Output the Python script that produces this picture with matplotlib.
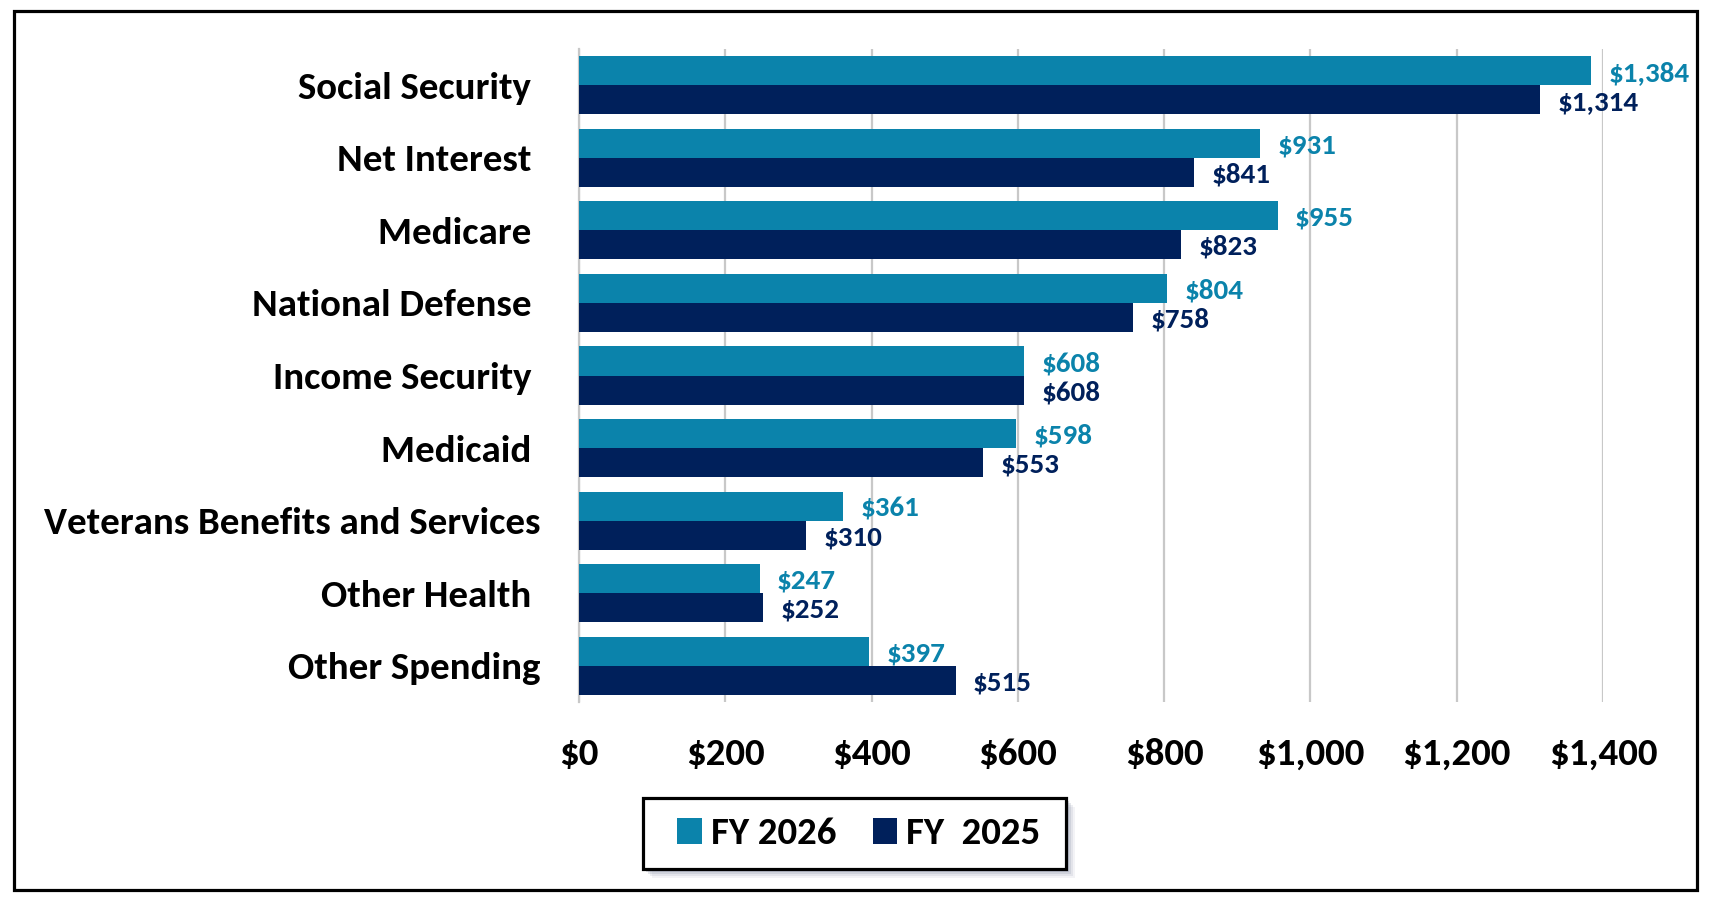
import matplotlib
matplotlib.use("Agg")
import matplotlib.pyplot as plt
from matplotlib import font_manager as fm
from matplotlib.patches import Rectangle, Patch
import numpy as np

categories = ["Social Security", "Net Interest", "Medicare", "National Defense",
              "Income Security", "Medicaid", "Veterans Benefits and Services",
              "Other Health", "Other Spending"]
# trailing spaces as in the original category labels
category_labels = ["Social Security ", "Net Interest ", "Medicare ", "National Defense ",
                   "Income Security ", "Medicaid ", "Veterans Benefits and Services",
                   "Other Health ", "Other Spending"]
fy2026 = [1384, 931, 955, 804, 608, 598, 361, 247, 397]
fy2025 = [1314, 841, 823, 758, 608, 553, 310, 252, 515]
series_names = ["FY 2026", "FY  2025"]
xticks = [0, 200, 400, 600, 800, 1000, 1200, 1400]
xtick_labels = ["$0", "$200", "$400", "$600", "$800", "$1,000", "$1,200", "$1,400"]

C26 = "#0B83AB"
C25 = "#00205B"

avail = {f.name for f in fm.fontManager.ttflist}
family = None
for cand in ["Carlito", "Calibri", "Lato", "Open Sans", "DejaVu Sans"]:
    if cand in avail:
        family = cand
        break
plt.rcParams["font.family"] = [family, "DejaVu Sans"]
plt.rcParams["font.weight"] = "bold"

W, H = 1711, 901
fig = plt.figure(figsize=(W / 100, H / 100), dpi=100)
ax = fig.add_axes([579 / W, 1 - 702 / H, (1603 - 579) / W, (702 - 49) / H])

y = np.arange(len(categories))
bh = 0.40
ax.barh(y - bh / 2, fy2026, height=bh, color=C26, zorder=3, label=series_names[0])
ax.barh(y + bh / 2, fy2025, height=bh, color=C25, zorder=3, label=series_names[1])

for yi, v in zip(y, fy2026):
    ax.annotate(f"${v:,}", (v, yi - bh / 2), xytext=(12.5, -1.5), textcoords="offset points",
                va="center", ha="left", color=C26, fontsize=21, fontweight="bold",
                annotation_clip=False, zorder=4)
for yi, v in zip(y, fy2025):
    ax.annotate(f"${v:,}", (v, yi + bh / 2), xytext=(12.5, -1.5), textcoords="offset points",
                va="center", ha="left", color=C25, fontsize=21, fontweight="bold",
                annotation_clip=False, zorder=4)

ax.set_xlim(0, 1400)
ax.set_ylim(len(categories) - 0.5, -0.5)
ax.set_xticks(xticks)
ax.set_xticklabels(xtick_labels)
ax.set_yticks(y)
ax.set_yticklabels(category_labels)
ax.tick_params(axis="x", length=0, pad=26, labelsize=28)
ax.tick_params(axis="y", length=0, pad=28, labelsize=28)
for lab in ax.get_xticklabels() + ax.get_yticklabels():
    lab.set_fontweight("bold")
    lab.set_color("black")

ax.grid(axis="x", color="#C8C8C8", linewidth=1.6, zorder=0)
ax.grid(axis="y", visible=False)
for s in ["top", "right", "bottom"]:
    ax.spines[s].set_visible(False)
ax.spines["left"].set_color("#C8C8C8")
ax.spines["left"].set_linewidth(1.6)

# legend box with soft shadow
lx0, lx1, ly0, ly1 = 643, 1066, 798, 869
for off, a in [(9, 0.10), (7, 0.15), (5, 0.22), (3, 0.30)]:
    fig.patches.append(Rectangle(((lx0 + off) / W, 1 - (ly1 + off) / H), (lx1 - lx0) / W,
                                 (ly1 - ly0) / H, transform=fig.transFigure,
                                 facecolor="#8C93A8", edgecolor="none", alpha=a, zorder=1))
fig.patches.append(Rectangle((lx0 / W, 1 - ly1 / H), (lx1 - lx0) / W, (ly1 - ly0) / H,
                             transform=fig.transFigure, facecolor="white",
                             edgecolor="black", linewidth=2.3, zorder=2))

handles = [Patch(facecolor=C26), Patch(facecolor=C25)]
leg = fig.legend(handles, series_names, loc="center left",
                 bbox_to_anchor=(677 / W, 1 - 834 / H), ncol=2,
                 frameon=False, prop={"size": 28, "weight": "bold"},
                 handlelength=0.64, handleheight=0.64, handletextpad=0.23,
                 columnspacing=0.93, borderpad=0.0, borderaxespad=0.0)
leg.set_zorder(5)

fig.patches.append(Rectangle((14 / W, 1 - 890 / H), (1697 - 14) / W, (890 - 11) / H,
                             transform=fig.transFigure, fill=False, edgecolor="black",
                             linewidth=2.3, zorder=10))

fig.savefig("out.png", dpi=100, facecolor="white")
